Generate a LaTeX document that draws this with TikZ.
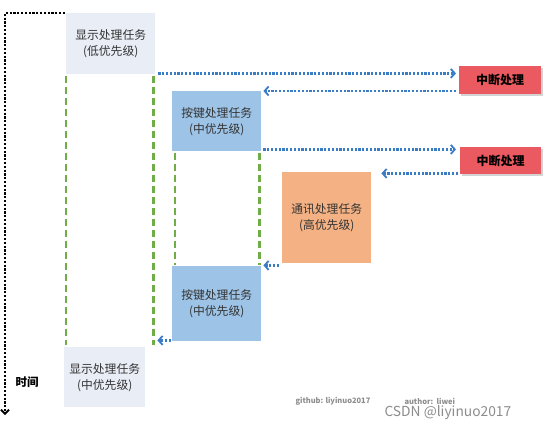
\documentclass[tikz,border=0pt]{standalone}
\usepackage{fontspec}
\setmainfont{Noto Sans CJK SC}
\usetikzlibrary{arrows.meta,positioning,shadows}

\definecolor{lowc}{HTML}{E9EDF6}
\definecolor{midc}{HTML}{9DC3E6}
\definecolor{highc}{HTML}{F4B183}
\definecolor{intc}{HTML}{EB5A60}
\definecolor{flowc}{HTML}{3A7DC6}
\definecolor{runc}{HTML}{70AD47}

\begin{document}
\begin{tikzpicture}[x=1pt,y=-1pt,
    task/.style={anchor=north west,inner sep=0pt,align=center,text=black!80,
        font=\fontsize{11.8}{16}\selectfont},
    intr/.style={anchor=north west,fill=intc,inner sep=0pt,
        font=\bfseries\fontsize{12}{14}\selectfont,
        drop shadow={shadow xshift=2pt,shadow yshift=-2pt,opacity=0.35}},
    flow/.style={flowc,line width=2.4pt,dash pattern=on 2.2pt off 1.6pt,
        -{Straight Barb[length=4pt,width=9pt,line width=1.8pt]}},
    run/.style={runc,line width=2.4pt,dash pattern=on 7pt off 4pt}]

    \useasboundingbox (0,0) rectangle (553,431);

    % Task boxes
    \node[task,fill=lowc,minimum width=89pt,minimum height=61pt] (disp1) at (66,13) {显示处理任务\\(低优先级)};
    \node[task,fill=midc,minimum width=89pt,minimum height=60pt] (key1) at (172,91) {按键处理任务\\(中优先级)};
    \node[task,fill=highc,minimum width=89pt,minimum height=91pt] (comm) at (282,172) {通讯处理任务\\(高优先级)};
    \node[task,fill=midc,minimum width=89pt,minimum height=75pt] (key2) at (172,266) {按键处理任务\\(中优先级)};
    \node[task,fill=lowc,minimum width=81pt,minimum height=60pt] (disp2) at (64,347) {显示处理任务\\(中优先级)};

    % Interrupts
    \node[intr,minimum width=82pt,minimum height=28pt] (int1) at (459,66) {中断处理};
    \node[intr,minimum width=81pt,minimum height=27pt] (int2) at (460,147) {中断处理};

    % Time axis
    \coordinate (tcorner) at (5,13);
    \coordinate (tend) at (5,415);
    \draw[line width=2.4pt,dash pattern=on 2.2pt off 1.6pt,-{Straight Barb[length=4pt,width=8pt,line width=1.8pt]}]
        ([xshift=-1pt]disp1.north west) -- (tcorner) -- (tend);
    \node[font=\bfseries\fontsize{11.5}{13}\selectfont] (tlabel) at (27,382) {时间};

    % Running (preempted) tasks
    \draw[run] ([yshift=-2pt]disp1.south west) -- ([yshift=2pt]disp1.south west |- disp2.north);
    \draw[run] ([xshift=-2pt,yshift=-2pt]disp1.south east) -- ([xshift=-2pt,yshift=2pt]disp1.south east |- disp2.north);
    \draw[run] ([xshift=3pt,yshift=-2pt]key1.south west) -- ([xshift=3pt,yshift=1pt]key1.south west |- key2.north);
    \draw[run] ([xshift=-2pt,yshift=-2pt]key1.south east) -- ([xshift=-2pt,yshift=1pt]key1.south east |- key2.north);

    % Interrupt flow
    \draw[flow] ([xshift=3pt,yshift=1pt]disp1.south east) -- ([xshift=-3pt,yshift=1pt]disp1.south east -| int1.west);
    \draw[flow] ([xshift=-3pt]key1.north east -| int1.west) -- ([xshift=2pt]key1.north east);
    \draw[flow] ([xshift=2pt,yshift=2pt]key1.south east) -- ([xshift=-3pt,yshift=2pt]key1.south east -| int1.west);
    \draw[flow] ([xshift=-2pt,yshift=1pt]int2.south west) -- ([xshift=10pt,yshift=1pt]int2.south west -| comm.east);
    \draw[flow] ([xshift=-3pt,yshift=-2pt]comm.south west) -- ([xshift=2pt,yshift=-2pt]comm.south west -| key2.east);
    \draw[flow] ([xshift=-1pt,yshift=1pt]key2.south west) -- ([xshift=2pt,yshift=1pt]key2.south west -| disp1.east);

    % Credits
    \node[anchor=west,text=black!45,font=\bfseries\fontsize{7.5}{9}\selectfont] (git) at (292,401) {github: liyinuo2017};
    \node[anchor=west,text=black!45,font=\bfseries\fontsize{7.5}{9}\selectfont] (auth) at (401,401) {author:\ \ liwei};
    \node[anchor=west,text=black!45,font=\fontsize{13.8}{16}\selectfont] (csdn) at (381,413) {CSDN @liyinuo2017};

\end{tikzpicture}
\end{document}
